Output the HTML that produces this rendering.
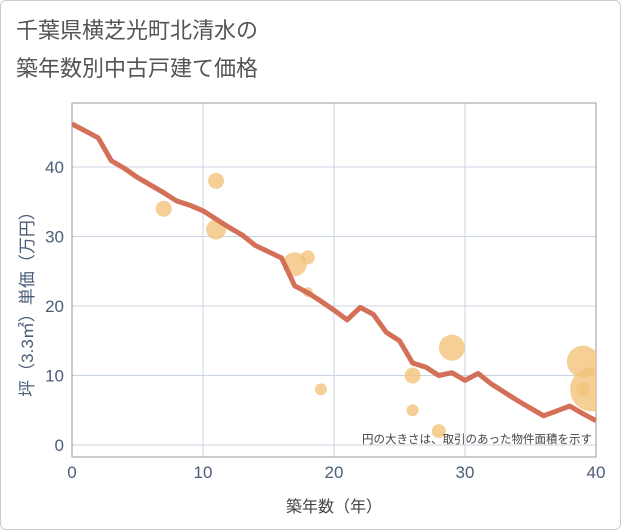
<!DOCTYPE html>
<html><head><meta charset="utf-8"><style>
body{margin:0;background:#fff;font-family:"Liberation Sans","Noto Sans CJK JP",sans-serif}
#c{position:relative;width:619px;height:528px;border:1px solid #ccc;border-radius:6px}
</style></head><body>
<div id="c">
<svg width="621" height="530" style="position:absolute;left:-1px;top:-1px">
<text x="16" y="38" font-size="22" fill="#555">千葉県横芝光町北清水の</text>
<text x="16" y="76" font-size="22" fill="#555">築年数別中古戸建て価格</text>
<defs><clipPath id="cp"><rect x="72" y="103" width="524" height="354"/></clipPath></defs>
<g id="grid"></g>
<rect x="72" y="103" width="524" height="354" fill="none" stroke="#999"/>
<g id="bub" clip-path="url(#cp)"></g>
<g id="ln" clip-path="url(#cp)"></g>
<text x="592" y="443" font-size="11.5" fill="#444" text-anchor="end">円の大きさは、取引のあった物件面積を示す</text>
<text x="334" y="512" font-size="16" fill="#444" text-anchor="middle">築年数（年）</text>
<text transform="translate(33,300) rotate(-90)" font-size="17" fill="#4a5e78" text-anchor="middle">坪（3.3㎡）単価（万円）</text>
</svg></div>
<script>
const xTicks=[0,10,20,30,40];
const yTicks=[0,10,20,30,40];
const lineYears=[0,2,3,4,5,6,7,8,9,10,11,12,13,14,15,16,17,18,19,20,21,22,23,24,25,26,27,28,29,30,31,32,33,34,35,36,37,38,39,40];
const lineValues=[46.2,44.2,40.9,39.8,38.5,37.4,36.3,35.1,34.5,33.7,32.5,31.3,30.2,28.7,27.8,26.9,22.9,21.9,20.7,19.4,18.0,19.8,18.8,16.2,15.0,11.8,11.2,10.0,10.4,9.3,10.3,8.8,7.6,6.4,5.3,4.2,4.9,5.6,4.5,3.5];
const bubbleYears=[7,11,11,17,18,18,19,26,26,28,29,39,39.7,39];
const bubbleValues=[34,38,31,26,27,22,8,10,5,2,14,12,8,8];
const bubbleSizes=[8,8,10,12,7,5,6,8,6,7,13,16,22,7];
const NS="http://www.w3.org/2000/svg";
const X=v=>72+v*13.1, Y=v=>445-v*6.95;
function mk(t,a,p){const e=document.createElementNS(NS,t);for(const k in a)e.setAttribute(k,a[k]);p.appendChild(e);return e;}
const g=document.getElementById('grid');
xTicks.forEach(t=>{
 const l=mk('line',{x1:X(t),x2:X(t),y1:103,y2:457,stroke:'#c8d4e2'},g);
 
 
 const tx=mk('text',{x:X(t),y:478,'font-size':17,fill:'#4a5e78','text-anchor':'middle'},g);tx.textContent=t;
 
 
});
yTicks.forEach(t=>{
 const l=mk('line',{x1:72,x2:596,y1:Y(t),y2:Y(t),stroke:'#c8d4e2'},g);
 
 
 const tx=mk('text',{x:64,y:Y(t)+6,'font-size':17,fill:'#4a5e78','text-anchor':'end'},g);tx.textContent=t;
 
 
});
const b=document.getElementById('bub');
bubbleYears.forEach((yr,i)=>{
 const c=mk('circle',{cx:X(yr),cy:Y(bubbleValues[i]),r:bubbleSizes[i],fill:'#f2c37a','fill-opacity':0.8},b);
 
 
});
const p=mk('polyline',{points:lineYears.map((yr,i)=>X(yr)+','+Y(lineValues[i])).join(' '),fill:'none',stroke:'#d46f58','stroke-width':5,'stroke-linejoin':'round'},document.getElementById('ln'));


</script>
</body></html>
